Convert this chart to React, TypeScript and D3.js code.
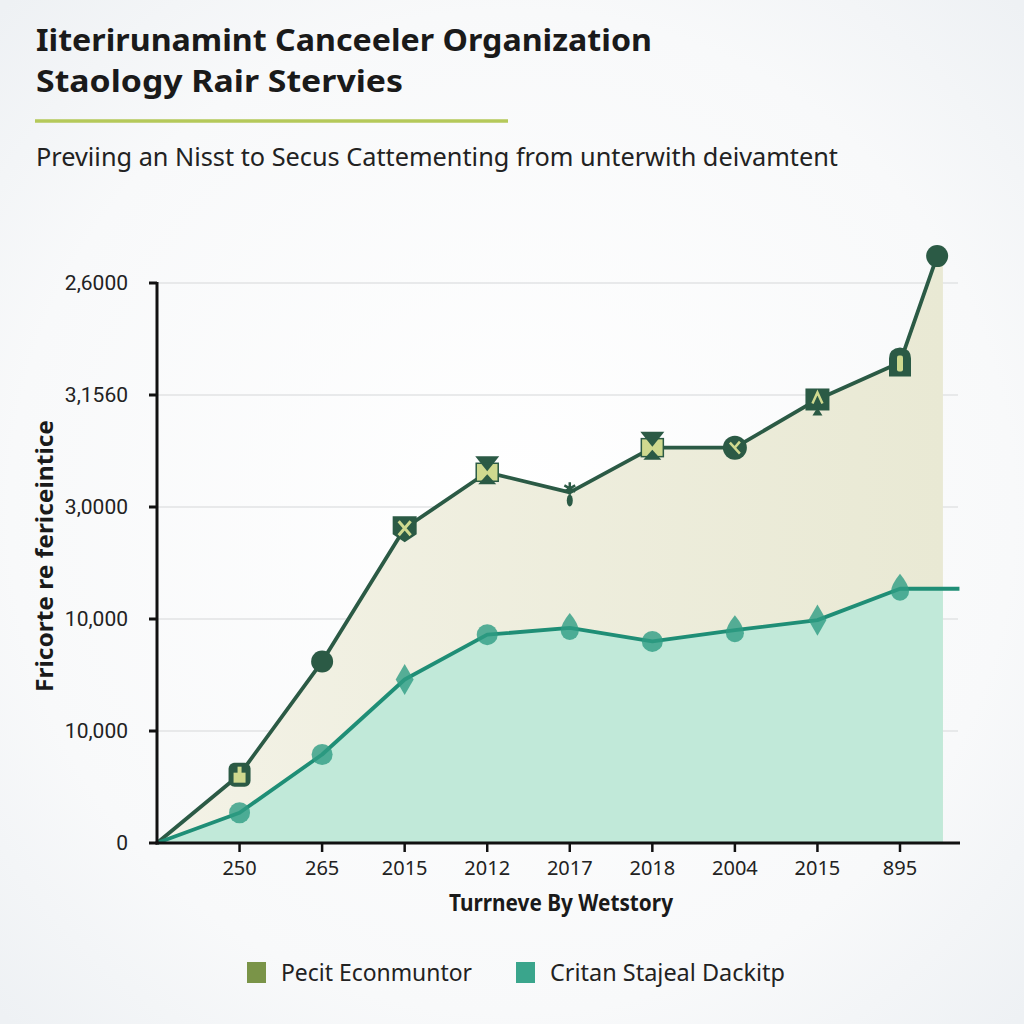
import React from 'react'
import * as d3 from 'd3'

const categories = ['250', '265', '2015', '2012', '2017', '2018', '2004', '2015', '895']
const yTickValues = [0, 5000, 10000, 15000, 20000, 25000]
const yTickLabels = ['0', '10,000', '10,000', '3,0000', '3,1560', '2,6000']
const seriesA = [3050, 8100, 14050, 16550, 15650, 17650, 17650, 19800, 21450]
const seriesAEnd = 26200
const seriesB = [1350, 3950, 7300, 9300, 9600, 9000, 9500, 9950, 11350]
const markersA = ['lock', 'dot', 'xbadge', 'hourglass', 'flower', 'hourglass', 'xdot', 'arrow', 'bell', 'dot']
const markersB = ['circle', 'circle', 'diamond', 'circle', 'drop', 'circle', 'drop', 'diamond', 'drop']
const legendLabels = ['Pecit Econmuntor', 'Critan Stajeal Dackitp']
const legendColours = ['#7a9448', '#3aa58c']

const W = 1024
const H = 1024
const left = 157
const right = 960
const top = 283
const bottom = 843

const dark = '#2b5a45'
const light = '#cfd98f'
const teal = '#1f8e76'

function DarkMarker({ kind, x, y }: { kind: string; x: number; y: number }) {
  let inner: React.ReactNode = null
  if (kind === 'dot') {
    inner = <circle r={11} fill={dark} />
  } else if (kind === 'lock') {
    inner = (
      <g>
        <rect x={-11} y={-12} width={22} height={24} rx={6} fill={dark} />
        <rect x={-6} y={-2} width={12} height={10} fill={light} />
        <rect x={-2} y={-8} width={4} height={7} fill={light} />
      </g>
    )
  } else if (kind === 'xbadge') {
    inner = (
      <g>
        <path d="M-12,-12H12V6L0,14L-12,6Z" fill={dark} />
        <path d="M-6,-7L6,7M6,-7L-6,7" stroke={light} strokeWidth={3} />
      </g>
    )
  } else if (kind === 'hourglass') {
    inner = (
      <g>
        <rect x={-11} y={-9} width={22} height={18} fill={light} />
        <path d="M-12,-16H12L0,-1Z" fill={dark} />
        <path d="M-9,12H9L0,2Z" fill={dark} />
        <rect x={-11} y={-9} width={22} height={18} fill="none" stroke={dark} strokeWidth={1.5} />
      </g>
    )
  } else if (kind === 'flower') {
    inner = (
      <g>
        <path d={d3.symbol(d3.symbolAsterisk, 110)() || ''} transform="translate(0,-4)" stroke={dark} strokeWidth={2.5} />
        <ellipse cx={0} cy={8} rx={3} ry={6} fill={dark} />
      </g>
    )
  } else if (kind === 'xdot') {
    inner = (
      <g>
        <circle r={12} fill={dark} />
        <path d="M-5,-5L5,6M5,-6L-1,1" stroke={light} strokeWidth={2.5} />
      </g>
    )
  } else if (kind === 'arrow') {
    inner = (
      <g>
        <rect x={-12} y={-11} width={24} height={22} fill={dark} />
        <path d="M-5,4L0,-7L5,4" stroke={light} strokeWidth={2.5} fill="none" />
        <path d="M-5,10H5L0,2Z" fill={dark} transform="translate(0,6)" />
      </g>
    )
  } else if (kind === 'bell') {
    inner = (
      <g>
        <path d="M-11,14V-4Q-11,-14 0,-15Q11,-14 11,-4V14Z" fill={dark} />
        <rect x={-3} y={-7} width={6} height={16} rx={2} fill={light} />
      </g>
    )
  }
  return <g transform={`translate(${x},${y})`}>{inner}</g>
}

function TealMarker({ kind, x, y }: { kind: string; x: number; y: number }) {
  const fill = '#2e9c83'
  let inner: React.ReactNode
  if (kind === 'diamond') {
    inner = <path d={d3.symbol(d3.symbolDiamond, 280)() || ''} fill={fill} opacity={0.8} />
  } else if (kind === 'drop') {
    inner = <path d="M0,-15Q9,-4 9,3A9,9 0 1 1 -9,3Q-9,-4 0,-15Z" fill={fill} opacity={0.8} />
  } else {
    inner = <circle r={10.5} fill={fill} opacity={0.8} />
  }
  return <g transform={`translate(${x},${y})`}>{inner}</g>
}

export default function App() {
  const x = d3.scaleLinear().domain([-1, 8]).range([left, 900])
  const y = d3.scaleLinear().domain([0, 25000]).range([bottom, top])

  const ptsA = [{ i: -1, v: 0 }, ...seriesA.map((v, i) => ({ i, v })), { i: 8.45, v: seriesAEnd }]
  const ptsB = [{ i: -1, v: 0 }, ...seriesB.map((v, i) => ({ i, v }))]
  const lineB = [...ptsB, { i: 8.72, v: seriesB[seriesB.length - 1] }]
  const areaBPts = [...ptsB, { i: 8.52, v: seriesB[seriesB.length - 1] }]
  const areaAPts = [...ptsA, { i: 8.52, v: seriesAEnd - 400 }]

  const line = d3.line<{ i: number; v: number }>().x(d => x(d.i)).y(d => y(d.v))
  const area = d3.area<{ i: number; v: number }>().x(d => x(d.i)).y0(y(0)).y1(d => y(d.v))

  return (
    <svg width={W} height={H} style={{ position: 'absolute', left: 0, top: 0 }} fontFamily="Roboto, 'Noto Sans', sans-serif">
      <defs>
        <radialGradient id="bg" cx="50%" cy="50%" r="70%">
          <stop offset="0%" stopColor="#ffffff" />
          <stop offset="70%" stopColor="#f8f9fa" />
          <stop offset="100%" stopColor="#eef1f4" />
        </radialGradient>
        <linearGradient id="beige" x1="0" x2="1" y1="0" y2="0">
          <stop offset="0%" stopColor="#f3f2e6" />
          <stop offset="100%" stopColor="#e9e9d4" />
        </linearGradient>
      </defs>
      <rect width={W} height={H} fill="url(#bg)" />

      <text x={36} y={51} fontSize={31} fontWeight={700} fill="#1a1a1a" textLength={616} lengthAdjust="spacingAndGlyphs" fontFamily="'Noto Sans', sans-serif">
        Iiterirunamint Canceeler Organization
      </text>
      <text x={36} y={92} fontSize={31} fontWeight={700} fill="#1a1a1a" textLength={367} lengthAdjust="spacingAndGlyphs" fontFamily="'Noto Sans', sans-serif">
        Staology Rair Stervies
      </text>
      <line x1={35} x2={508} y1={121} y2={121} stroke="#b5c95a" strokeWidth={3.5} />
      <text x={36} y={166} fontSize={26} fill="#222" textLength={802} lengthAdjust="spacingAndGlyphs" fontFamily="'Noto Sans', sans-serif">
        Previing an Nisst to Secus Cattementing from unterwith deivamtent
      </text>

      {yTickValues.map(t => (
        <line key={`g${t}`} x1={left} x2={958} y1={y(t)} y2={y(t)} stroke="#e2e3e4" strokeWidth={1.5} />
      ))}

      <path d={area(areaAPts) || ''} fill="url(#beige)" />
      <path d={area(areaBPts) || ''} fill="#c1e9d9" />

      <path d={line(ptsA) || ''} fill="none" stroke={dark} strokeWidth={3.8} strokeLinejoin="round" />
      <path d={line(lineB) || ''} fill="none" stroke={teal} strokeWidth={3.8} strokeLinejoin="round" />

      {seriesB.map((v, i) => (
        <TealMarker key={`b${i}`} kind={markersB[i]} x={x(i)} y={y(v)} />
      ))}
      {ptsA.slice(1).map((d, k) => (
        <DarkMarker key={`a${k}`} kind={markersA[k]} x={x(d.i)} y={y(d.v)} />
      ))}

      <line x1={left} x2={left} y1={top - 1} y2={bottom + 1.5} stroke="#111" strokeWidth={3} />
      <line x1={left - 1.5} x2={right} y1={bottom} y2={bottom} stroke="#111" strokeWidth={3} />
      {yTickValues.map((t, k) => (
        <g key={`yt${t}`}>
          <line x1={left - 8} x2={left} y1={y(t)} y2={y(t)} stroke="#111" strokeWidth={3} />
          <text x={128} y={y(t)} dy="0.35em" textAnchor="end" fontSize={21} fill="#222">
            {yTickLabels[k]}
          </text>
        </g>
      ))}
      {categories.map((c, i) => (
        <g key={`xt${i}`}>
          <line x1={x(i)} x2={x(i)} y1={bottom} y2={bottom + 9} stroke="#111" strokeWidth={2.5} />
          <text x={x(i)} y={bottom + 25} dy="0.35em" textAnchor="middle" fontSize={20} fill="#222" fontFamily="'Noto Sans', sans-serif">
            {c}
          </text>
        </g>
      ))}

      <text x={561} y={911} textAnchor="middle" fontSize={23} fontWeight={700} fill="#1a1a1a" textLength={224} lengthAdjust="spacingAndGlyphs" fontFamily="'Noto Sans', sans-serif">
        Turrneve By Wetstory
      </text>
      <text transform={`translate(53,556) rotate(-90)`} textAnchor="middle" fontSize={24} fontWeight={700} fill="#1a1a1a" textLength={272} lengthAdjust="spacingAndGlyphs" fontFamily="'Noto Sans', sans-serif">
        Fricorte re fericeintice
      </text>

      {legendLabels.map((l, k) => {
        const lx = k === 0 ? 247 : 516
        return (
          <g key={l}>
            <rect x={lx} y={962} width={19} height={21} fill={legendColours[k]} />
            <text x={lx + 34} y={981} fontSize={24} fill="#222" textLength={k === 0 ? 191 : 235} lengthAdjust="spacingAndGlyphs" fontFamily="'Noto Sans', sans-serif">
              {l}
            </text>
          </g>
        )
      })}
    </svg>
  )
}
